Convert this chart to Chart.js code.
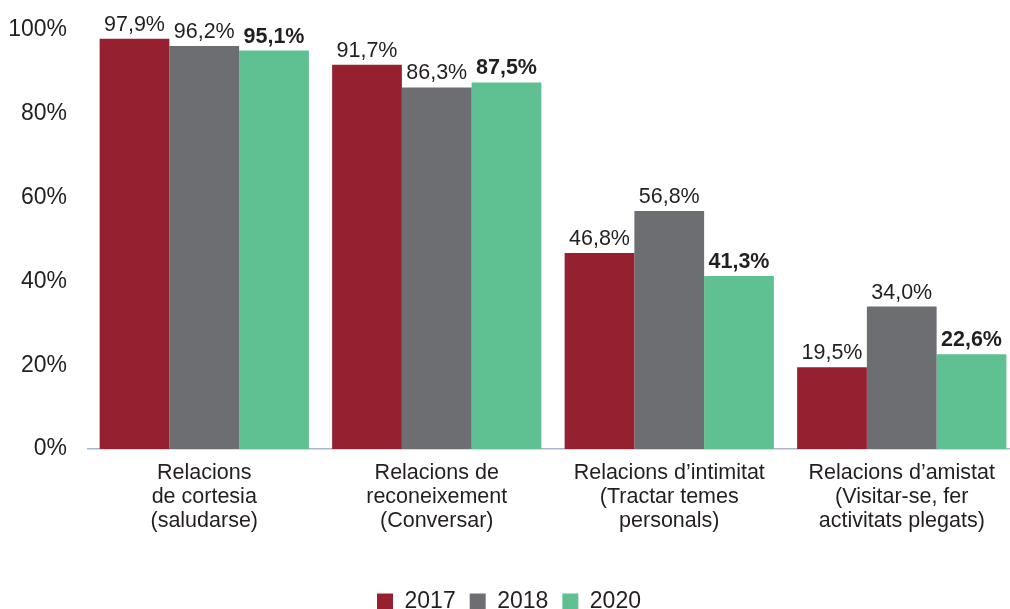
<!DOCTYPE html>
<html>
<head>
<meta charset="utf-8">
<script src="https://cdn.jsdelivr.net/npm/chart.js@4/dist/chart.umd.min.js"></script>
<style>
  html, body { margin: 0; padding: 0; background: #fff; overflow: hidden; }
  #wrap { width: 1038px; height: 609px; }
</style>
</head>
<body>
<div id="wrap"><canvas id="chart"></canvas></div>
<script>
var categories = [
  ['Relacions', 'de cortesia', '(saludarse)'],
  ['Relacions de', 'reconeixement', '(Conversar)'],
  ['Relacions d\u2019intimitat', '(Tractar temes', 'personals)'],
  ['Relacions d\u2019amistat', '(Visitar-se, fer', 'activitats plegats)']
];
var years = ['2017', '2018', '2020'];
var values2017 = [97.9, 91.7, 46.8, 19.5];
var values2018 = [96.2, 86.3, 56.8, 34.0];
var values2020 = [95.1, 87.5, 41.3, 22.6];
var yTicks = [0, 20, 40, 60, 80, 100];

var colors = ['#952030', '#6d6e71', '#5fc192'];
var fontFamily = '"Liberation Sans", Arial, Helvetica, sans-serif';
var textColor = '#231f20';

// draws the value above each bar, 2020 in bold
var barLabels = {
  id: 'barLabels',
  afterDatasetsDraw: function(chart) {
    var ctx = chart.ctx;
    ctx.save();
    ctx.fillStyle = textColor;
    ctx.textAlign = 'center';
    ctx.textBaseline = 'alphabetic';
    chart.data.datasets.forEach(function(ds, i) {
      var meta = chart.getDatasetMeta(i);
      ctx.font = (i === 2 ? 'bold ' : '') + '21.5px ' + fontFamily;
      meta.data.forEach(function(bar, j) {
        var txt = ds.data[j].toFixed(1).replace('.', ',') + '%';
        ctx.fillText(txt, bar.x, bar.y - 8);
      });
    });
    ctx.restore();
  }
};

var ctx = document.getElementById('chart').getContext('2d');
new Chart(ctx, {
  type: 'bar',
  data: {
    labels: categories,
    datasets: [
      { label: years[0], data: values2017, backgroundColor: colors[0] },
      { label: years[1], data: values2018, backgroundColor: colors[1] },
      { label: years[2], data: values2020, backgroundColor: colors[2] }
    ]
  },
  options: {
    responsive: true,
    maintainAspectRatio: false,
    animation: false,
    layout: { padding: { top: 30, right: 20, left: 0, bottom: -14 } },
    datasets: {
      bar: { barPercentage: 1, categoryPercentage: 0.9, borderWidth: 0 }
    },
    scales: {
      x: {
        grid: { display: false, drawTicks: false },
        border: { display: true, color: '#a9b8c8', width: 1.5 },
        ticks: {
          color: textColor,
          font: { family: fontFamily, size: 21.5, lineHeight: 1.12 },
          padding: 12,
          maxRotation: 0,
          autoSkip: false
        },
        afterFit: function(scale) { scale.height = 127; }
      },
      y: {
        min: 0,
        max: 100,
        afterBuildTicks: function(scale) {
          scale.ticks = yTicks.map(function(v) { return { value: v }; });
        },
        afterFit: function(scale) {
          scale.width = 88;
          scale.paddingTop = 0;
          scale.paddingBottom = 0;
        },
        grid: { display: false, drawTicks: false },
        border: { display: false },
        ticks: {
          color: textColor,
          font: { family: fontFamily, size: 23 },
          padding: 21,
          callback: function(v) { return v + '%'; }
        }
      }
    },
    plugins: {
      legend: {
        position: 'bottom',
        labels: {
          color: textColor,
          font: { family: fontFamily, size: 23 },
          boxWidth: 16,
          boxHeight: 16,
          padding: 14
        }
      },
      tooltip: { enabled: false }
    }
  },
  plugins: [barLabels]
});
</script>
</body>
</html>
